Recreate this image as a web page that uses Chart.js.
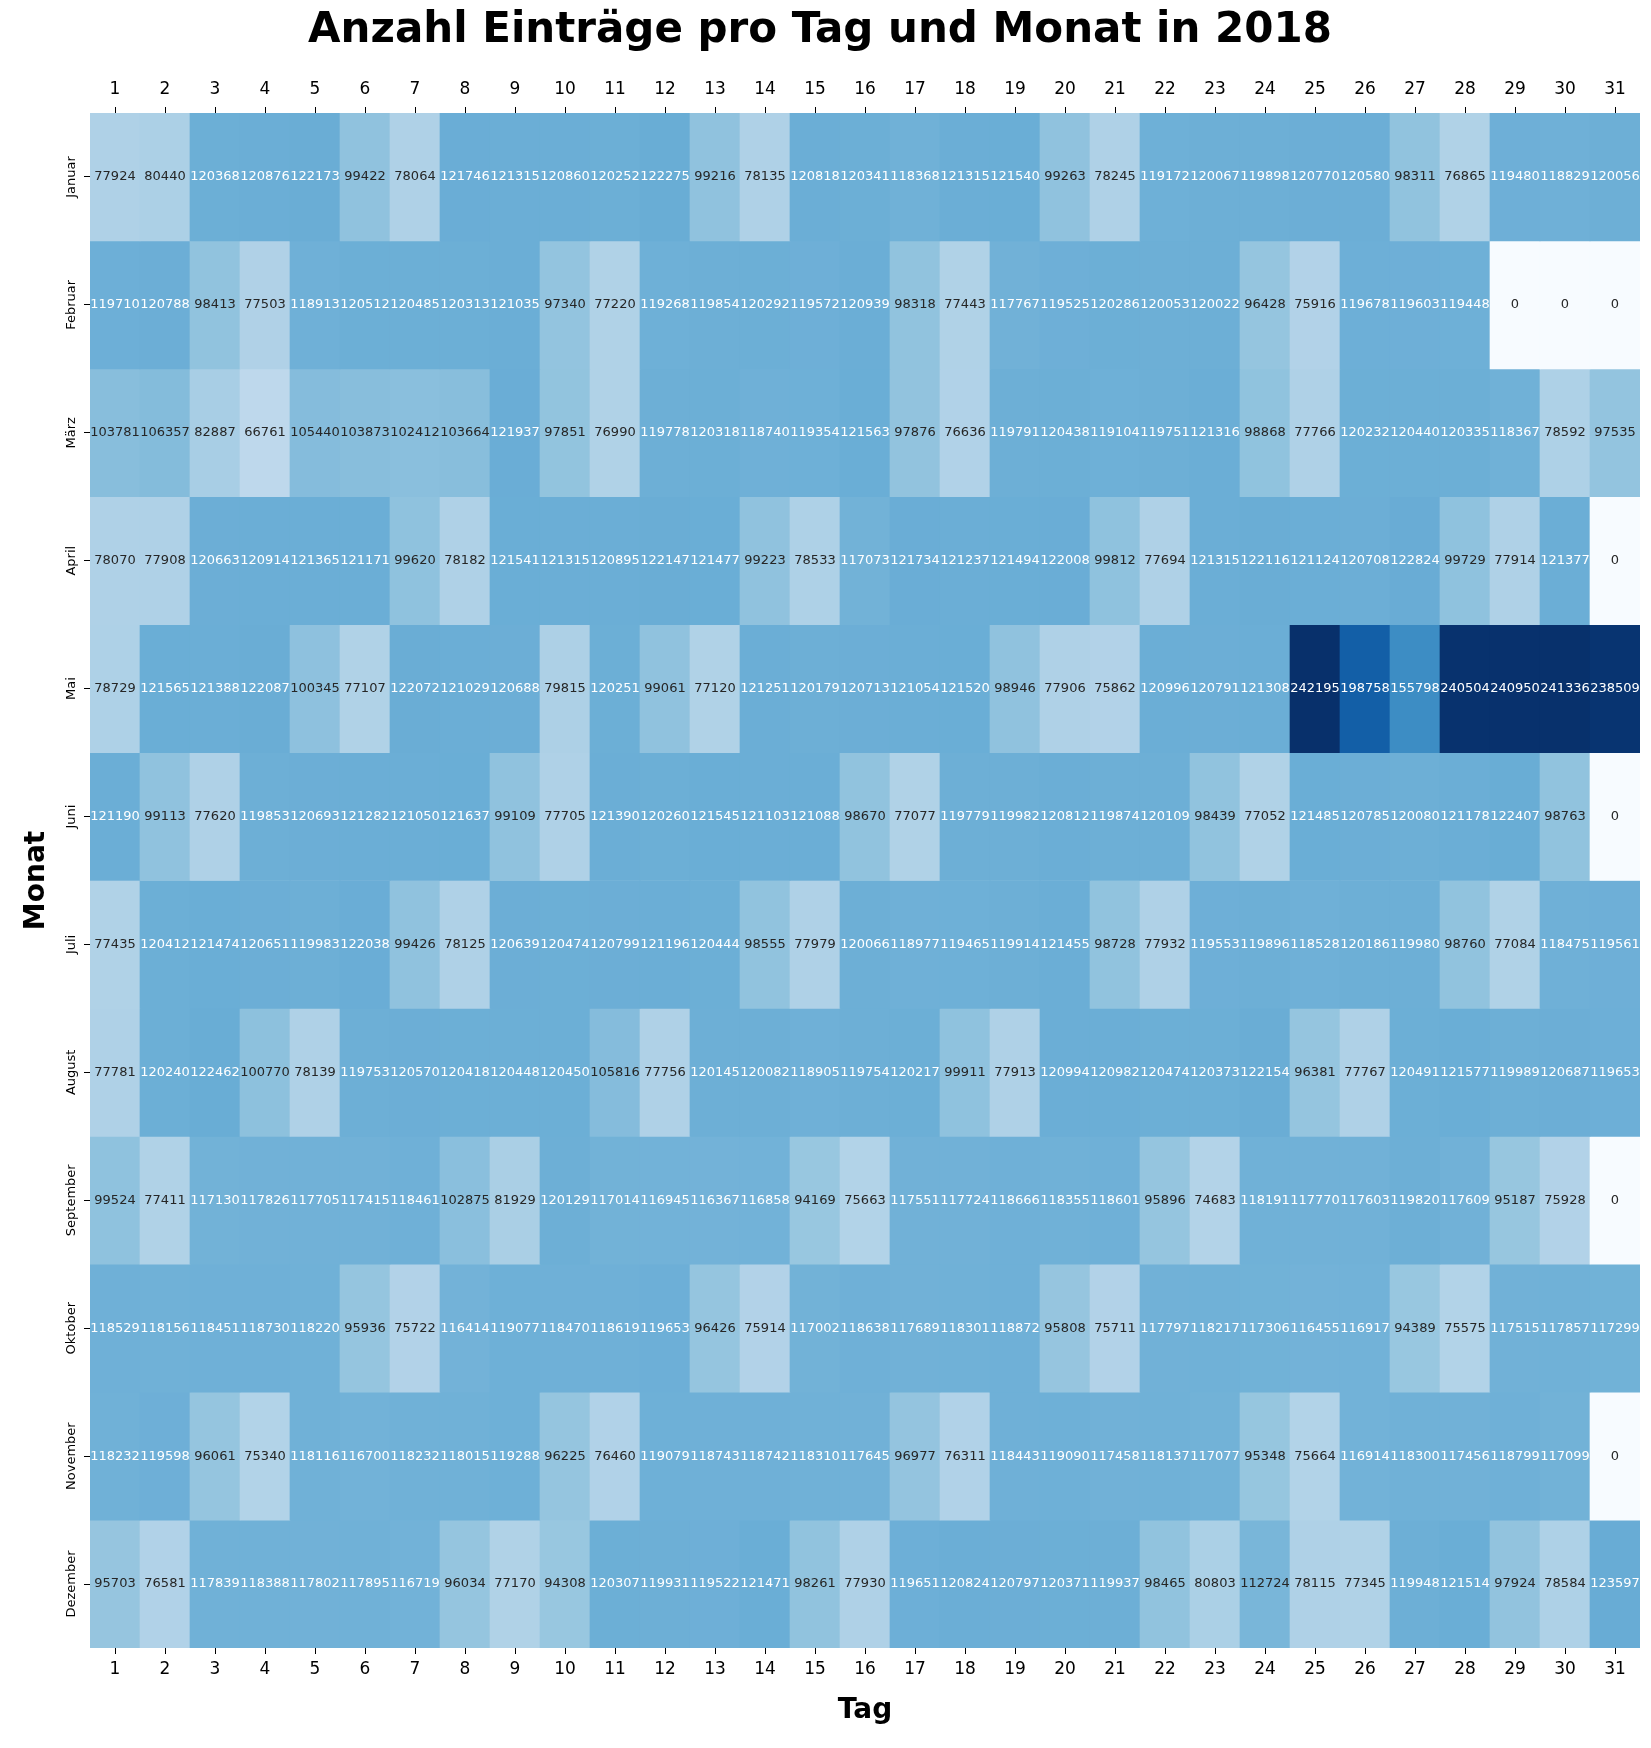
<!DOCTYPE html>
<html>
<head>
<meta charset="utf-8">
<script src="https://cdn.jsdelivr.net/npm/chart.js@4.4.0/dist/chart.umd.min.js"></script>
<style>
html, body { margin: 0; padding: 0; background: #fff; }
#contenedor { width: 1651px; height: 1748px; }
</style>
</head>
<body>
<div id="contenedor"><canvas id="graficaEintraege"></canvas></div>
<script>
// Daten: Anzahl Eintraege pro Tag (Spalten) und Monat (Zeilen)
const monate = ['Januar', 'Februar', 'März', 'April', 'Mai', 'Juni', 'Juli', 'August', 'September', 'Oktober', 'November', 'Dezember'];
const tage = ['1','2','3','4','5','6','7','8','9','10','11','12','13','14','15','16','17','18','19','20','21','22','23','24','25','26','27','28','29','30','31'];

const januar = [77924, 80440, 120368, 120876, 122173, 99422, 78064, 121746, 121315, 120860, 120252, 122275, 99216, 78135, 120818, 120341, 118368, 121315, 121540, 99263, 78245, 119172, 120067, 119898, 120770, 120580, 98311, 76865, 119480, 118829, 120056];
const februar = [119710, 120788, 98413, 77503, 118913, 120512, 120485, 120313, 121035, 97340, 77220, 119268, 119854, 120292, 119572, 120939, 98318, 77443, 117767, 119525, 120286, 120053, 120022, 96428, 75916, 119678, 119603, 119448, 0, 0, 0];
const maerz = [103781, 106357, 82887, 66761, 105440, 103873, 102412, 103664, 121937, 97851, 76990, 119778, 120318, 118740, 119354, 121563, 97876, 76636, 119791, 120438, 119104, 119751, 121316, 98868, 77766, 120232, 120440, 120335, 118367, 78592, 97535];
const april = [78070, 77908, 120663, 120914, 121365, 121171, 99620, 78182, 121541, 121315, 120895, 122147, 121477, 99223, 78533, 117073, 121734, 121237, 121494, 122008, 99812, 77694, 121315, 122116, 121124, 120708, 122824, 99729, 77914, 121377, 0];
const mai = [78729, 121565, 121388, 122087, 100345, 77107, 122072, 121029, 120688, 79815, 120251, 99061, 77120, 121251, 120179, 120713, 121054, 121520, 98946, 77906, 75862, 120996, 120791, 121308, 242195, 198758, 155798, 240504, 240950, 241336, 238509];
const juni = [121190, 99113, 77620, 119853, 120693, 121282, 121050, 121637, 99109, 77705, 121390, 120260, 121545, 121103, 121088, 98670, 77077, 119779, 119982, 120812, 119874, 120109, 98439, 77052, 121485, 120785, 120080, 121178, 122407, 98763, 0];
const juli = [77435, 120412, 121474, 120651, 119983, 122038, 99426, 78125, 120639, 120474, 120799, 121196, 120444, 98555, 77979, 120066, 118977, 119465, 119914, 121455, 98728, 77932, 119553, 119896, 118528, 120186, 119980, 98760, 77084, 118475, 119561];
const august = [77781, 120240, 122462, 100770, 78139, 119753, 120570, 120418, 120448, 120450, 105816, 77756, 120145, 120082, 118905, 119754, 120217, 99911, 77913, 120994, 120982, 120474, 120373, 122154, 96381, 77767, 120491, 121577, 119989, 120687, 119653];
const september = [99524, 77411, 117130, 117826, 117705, 117415, 118461, 102875, 81929, 120129, 117014, 116945, 116367, 116858, 94169, 75663, 117551, 117724, 118666, 118355, 118601, 95896, 74683, 118191, 117770, 117603, 119820, 117609, 95187, 75928, 0];
const oktober = [118529, 118156, 118451, 118730, 118220, 95936, 75722, 116414, 119077, 118470, 118619, 119653, 96426, 75914, 117002, 118638, 117689, 118301, 118872, 95808, 75711, 117797, 118217, 117306, 116455, 116917, 94389, 75575, 117515, 117857, 117299];
const november = [118232, 119598, 96061, 75340, 118116, 116700, 118232, 118015, 119288, 96225, 76460, 119079, 118743, 118742, 118310, 117645, 96977, 76311, 118443, 119090, 117458, 118137, 117077, 95348, 75664, 116914, 118300, 117456, 118799, 117099, 0];
const dezember = [95703, 76581, 117839, 118388, 117802, 117895, 116719, 96034, 77170, 94308, 120307, 119931, 119522, 121471, 98261, 77930, 119651, 120824, 120797, 120371, 119937, 98465, 80803, 112724, 78115, 77345, 119948, 121514, 97924, 78584, 123597];

const werte = [januar, februar, maerz, april, mai, juni, juli, august, september, oktober, november, dezember];

// Farbskala "Blues" (wie matplotlib)
const blues = [[247,251,255],[222,235,247],[198,219,239],[158,202,225],[107,174,214],[66,146,198],[33,113,181],[8,81,156],[8,48,107]];
const vmax = Math.max(...werte.map(r => Math.max(...r)));

function farbeRGB(v) {
    let t = Math.min(Math.max(v / vmax, 0), 1) * (blues.length - 1);
    let i = Math.min(Math.floor(t), blues.length - 2);
    let f = t - i;
    return blues[i].map((c, k) => Math.round(c + (blues[i + 1][k] - c) * f));
}
function farbe(v) {
    const c = farbeRGB(v);
    return 'rgb(' + c[0] + ',' + c[1] + ',' + c[2] + ')';
}
function helligkeit(c) {
    const lin = c.map(x => { x = x / 255; return x <= 0.03928 ? x / 12.92 : Math.pow((x + 0.055) / 1.055, 2.4); });
    return 0.2126 * lin[0] + 0.7152 * lin[1] + 0.0722 * lin[2];
}

Chart.defaults.font.family = "'DejaVu Sans', sans-serif";
Chart.defaults.color = '#000';

const datasets = werte.map((reihe, m) => ({
    label: monate[m],
    data: reihe.map(() => [m, m + 1]),
    backgroundColor: reihe.map(farbe),
    borderWidth: 0,
    grouped: false,
    barPercentage: 1,
    categoryPercentage: 1,
}));

// Zahlen in die Zellen schreiben
const beschriftung = {
    id: 'beschriftung',
    afterDatasetsDraw(chart) {
        const ctx = chart.ctx;
        ctx.save();
        ctx.font = "13px 'DejaVu Sans'";
        ctx.textAlign = 'center';
        ctx.textBaseline = 'middle';
        chart.data.datasets.forEach((ds, m) => {
            chart.getDatasetMeta(m).data.forEach((bar, d) => {
                const v = werte[m][d];
                const p = bar.getCenterPoint();
                ctx.fillStyle = helligkeit(farbeRGB(v)) > 0.408 ? '#262626' : '#ffffff';
                ctx.fillText(String(v), p.x, p.y);
            });
        });
        ctx.restore();
    }
};

// Monatsnamen gedreht links
const monatsNamen = {
    id: 'monatsNamen',
    afterDraw(chart) {
        const ctx = chart.ctx;
        const y = chart.scales.y;
        ctx.save();
        ctx.font = "13px 'DejaVu Sans'";
        ctx.fillStyle = '#000';
        ctx.textAlign = 'center';
        ctx.textBaseline = 'middle';
        const x = chart.chartArea.left - 6 - 5 - 7;
        monate.forEach((m, i) => {
            ctx.save();
            ctx.translate(x, y.getPixelForValue(i + 0.5));
            ctx.rotate(-Math.PI / 2);
            ctx.fillText(m, 0, 0);
            ctx.restore();
        });
        ctx.restore();
    }
};

const achseX = {
    type: 'category',
    offset: true,
    grid: { display: true, drawOnChartArea: false, offset: false, tickLength: 6, tickColor: '#000', tickWidth: 1 },
    border: { display: false },
    ticks: { font: { size: 17 }, color: '#000', padding: 5, maxRotation: 0, autoSkip: false },
};

new Chart(document.getElementById('graficaEintraege'), {
    type: 'bar',
    data: { labels: tage, datasets: datasets },
    options: {
        responsive: true,
        maintainAspectRatio: false,
        animation: false,
        layout: { padding: { top: 0, right: 11, bottom: 0, left: 0 } },
        plugins: {
            legend: { display: false },
            tooltip: { enabled: false },
            title: {
                display: true,
                text: 'Anzahl Einträge pro Tag und Monat in 2018',
                font: { size: 42, weight: 'bold' },
                color: '#000',
                padding: { top: 6, bottom: 16.2 },
            },
        },
        scales: {
            x: Object.assign({}, achseX, {
                position: 'bottom',
                title: { display: true, text: 'Tag', font: { size: 28, weight: 'bold' }, color: '#000', padding: { top: 9.2, bottom: 20.8 } },
            }),
            x2: Object.assign({}, achseX, {
                position: 'top',
                labels: tage,
                ticks: { font: { size: 17 }, color: '#000', padding: 7, maxRotation: 0, autoSkip: false },
            }),
            y: {
                type: 'linear',
                position: 'left',
                min: 0,
                max: 12,
                reverse: true,
                afterBuildTicks: (scale) => { scale.ticks = monate.map((m, i) => ({ value: i + 0.5 })); },
                ticks: { display: false },
                grid: { display: true, drawOnChartArea: false, tickLength: 6, tickColor: '#000', tickWidth: 1 },
                border: { display: false },
                title: { display: true, text: 'Monat', font: { size: 28, weight: 'bold' }, color: '#000', padding: { top: 20.2, bottom: 30.2 } },
            },
        },
    },
    plugins: [beschriftung, monatsNamen],
});
</script>
</body>
</html>
